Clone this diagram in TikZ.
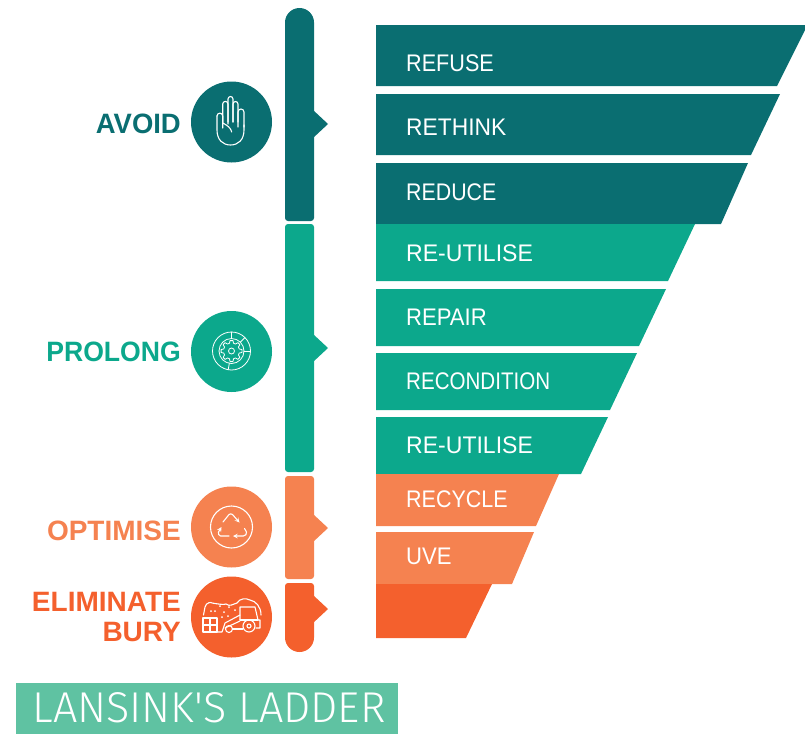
\documentclass[tikz,border=0pt]{standalone}
\usepackage{fontspec}
\usepackage{graphicx}
\setmainfont{Liberation Sans}
\newfontfamily\lightf{Fira Sans Light}
\definecolor{cA}{HTML}{0A6E71}
\definecolor{cP}{HTML}{0CA88C}
\definecolor{cO}{HTML}{F58250}
\definecolor{cE}{HTML}{F4602D}
\definecolor{cT}{HTML}{5FC2A2}
\tikzset{
 lab/.style={anchor=west,text=white,font=\fontsize{24}{24}\selectfont,inner sep=0pt},
 head/.style={anchor=east,font=\bfseries\fontsize{28}{30}\selectfont,inner sep=0pt,align=right},
 disc/.style={circle,minimum size=81pt,inner sep=0pt},
 ico/.style={draw=white,line width=1.1pt,line cap=round,line join=round,fill=none},
 thin ico/.style={ico,line width=.8pt},
}
\newcommand{\fingerdraw}[4]{\draw[ico] (#1,#4)--(#1,#3) arc[start angle=180,end angle=360,radius=(#2-#1)/2]--(#2,#4);}
\begin{document}
\begin{tikzpicture}[x=1pt,y=-1pt]
\useasboundingbox (0,0) rectangle (805,734);
% ladder
\fill[cA] (376,25)--(805,25)--(805,30)--(777,86)--(376,86)--cycle;
\fill[cA] (376,94)--(780,94)--(751,155)--(376,155)--cycle;
\fill[cA] (376,163)--(748,163)--(721,224)--(376,224)--cycle;
\fill[cP] (376,224)--(695,224)--(668,281)--(376,281)--cycle;
\fill[cP] (376,289)--(666,289)--(639,346)--(376,346)--cycle;
\fill[cP] (376,353)--(637,353)--(610,410)--(376,410)--cycle;
\fill[cP] (376,417)--(608,417)--(581,474)--(376,474)--cycle;
\fill[cO] (376,474)--(559,474)--(536,526)--(376,526)--cycle;
\fill[cO] (376,532)--(534,532)--(512,584)--(376,584)--cycle;
\fill[cE] (376,584)--(492,584)--(466,638)--(376,638)--cycle;
\node[lab] (n1) at (406,63) {\scalebox{.9}[1]{REFUSE}};
\node[lab] (n2) at (406,127) {\scalebox{.95}[1]{RETHINK}};
\node[lab] (n3) at (406,192) {\scalebox{.89}[1]{REDUCE}};
\node[lab] (n4) at (406,253) {\scalebox{.96}[1]{RE-UTILISE}};
\node[lab] (n5) at (406,317) {\scalebox{.92}[1]{REPAIR}};
\node[lab] (n6) at (406,381) {\scalebox{.857}[1]{RECONDITION}};
\node[lab] (n7) at (406,445) {\scalebox{.96}[1]{RE-UTILISE}};
\node[lab] (n8) at (406,499) {\scalebox{.895}[1]{RECYCLE}};
\node[lab] (n9) at (406,556) {\scalebox{.92}[1]{UVE}};
% bars
\fill[cA] (288,221) arc[start angle=90,end angle=180,radius=3] -- (285,22.5) arc[start angle=180,end angle=360,radius=14.5] -- (314,218) arc[start angle=0,end angle=90,radius=3]--cycle;
\fill[cA] (313,110)--(328,124)--(313,138)--cycle;
\fill[cP,rounded corners=3pt] (285,224) rectangle (314,472);
\fill[cP] (313,334)--(328,348)--(313,362)--cycle;
\fill[cO,rounded corners=3pt] (285,476) rectangle (314,579);
\fill[cO] (313,514)--(328,528)--(313,542)--cycle;
\fill[cE] (285,586) arc[start angle=180,end angle=270,radius=3] -- (311,583) arc[start angle=270,end angle=360,radius=3] -- (314,637.5) arc[start angle=0,end angle=180,radius=14.5] -- cycle;
\fill[cE] (313,595)--(328,609)--(313,623)--cycle;
% discs
\node[disc,fill=cA] (d1) at (231.5,122) {};
\node[disc,fill=cP] (d2) at (231.5,351.5) {};
\node[disc,fill=cO] (d3) at (231.5,527) {};
\node[disc,fill=cE] (d4) at (231.5,617) {};
% headings
\node[head,text=cA] (h1) at (181,124) {\scalebox{.98}[1]{AVOID}};
\node[head,text=cP] (h2) at (181,352) {\scalebox{.95}[1]{PROLONG}};
\node[head,text=cO] (h3) at (181,531) {OPTIMISE};
\node[head,text=cE] (h4) at (181,617) {ELIMINATE\\BURY};
% hand
\fingerdraw{222.7}{228}{104}{124}
\fingerdraw{228}{233}{99}{122}
\fingerdraw{233}{238}{104}{122}
\fingerdraw{238}{244}{112}{127}
\draw[ico] (217,116) arc[start angle=180,end angle=360,radius=2.85] -- (222.7,128);
\draw[ico] (217,116)--(217,130) .. controls (217,140) and (223,145) .. (230.5,145) .. controls (238,145) and (244,140) .. (244,130) -- (244,125);
\draw[ico] (222.7,123) .. controls (227,125) and (231,128) .. (231.7,132);
% gear icon
\begin{scope}[shift={(231.5,351)}]
\draw[thin ico] (0,0) circle (19);
\draw[thin ico] (0,0) circle (3);
\draw[thin ico] (-15:8) \foreach \a in {0,45,...,315}{ -- (\a-8:10.5) -- (\a+8:10.5) -- (\a+15:8) -- (\a+30:8)} -- cycle;
\foreach \a in {0,100,270,315}{\draw[thin ico] (\a:12.5)--(\a:19);}
\draw[thin ico] (0,0) circle (12.5);
\end{scope}
% recycle icon
\draw[ico] (231.5,527) circle (21);
\draw[ico,-stealth] (223,522)--(229,514.5) to[bend left=40] (232.5,514.5)--(239.5,522.5);
\draw[ico,-stealth] (244.5,528.5)--(246.5,532) to[bend left=50] (243.5,536)--(233,536);
\draw[ico,-stealth] (229,536)--(220.5,536) to[bend left=50] (218.5,532)--(221.5,527);
% tractor icon
\draw[ico] (203.5,615)--(205,607) .. controls (206,602) and (212,602) .. (212,603) .. controls (218,604) and (224,605) .. (226,604) .. controls (230,607) and (233,604) .. (237,603) .. controls (240,598) and (246,598) .. (250,600) .. controls (256,601) and (261,607) .. (261,615);
\draw[ico] (203,618) rectangle (217,632) (203,625)--(217,625) (210,618)--(210,632);
\draw[ico] (217,632)--(222,632)--(225,623)--(240,615);
\draw[ico] (225,628)--(240,621);
\draw[ico] (240,620)--(240,607)--(255,607)--(258,620)--(260,620)--(260,628)--(256,628);
\draw[ico] (240,620)--(258,620);
\draw[ico] (249,626) circle (6) (249,626) circle (2);
\draw[ico] (229,629) circle (3.5);
\draw[ico] (233,629)--(243,629);
\foreach \p in {(211,611),(215,611),(220,606),(224,612),(228,616),(222,617),(235,610),(229,607)}{\fill[white] \p circle (1);}
% title
\fill[cT] (16,683) rectangle (398,734);
\node[text=white,inner sep=0pt] (t) at (209,708) {\resizebox{353pt}{!}{\lightf\fontsize{40}{40}\selectfont LANSINK'S LADDER}};
\end{tikzpicture}
\end{document}
